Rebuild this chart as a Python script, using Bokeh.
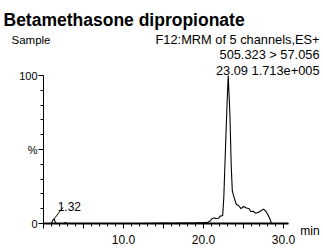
from bokeh.plotting import figure
from bokeh.models import Label, FixedTicker, Range1d, ColumnDataSource
from bokeh.embed import file_html
from bokeh.resources import INLINE

# ---- data ----
time_min = [0.0, 1.0, 1.15, 1.32, 1.45, 1.6, 2.6, 2.75, 2.9, 5.0, 8.0, 10.0, 12.0, 14.0,
            15.0, 16.0, 17.0, 18.0, 19.0, 19.5, 20.0, 20.5, 20.8, 21.0, 21.3, 21.6, 21.9,
            22.1, 22.4, 22.54, 22.75, 22.96, 23.09, 23.3, 23.46, 23.6, 23.8, 24.1, 24.4,
            24.7, 25.0, 25.3, 25.7, 25.9, 26.2, 26.5, 26.8, 27.1, 27.5, 27.8, 28.1, 28.3,
            28.5, 29.0, 30.6]
intensity_pct = [0.0, 0.0, 2.0, 3.4, 1.2, 0.0, 0.0, 0.8, 0.0, 0.0, 0.0, 0.0, 0.0, 0.2,
                 0.3, 0.2, 0.3, 0.3, 0.4, 0.5, 0.6, 0.8, 1.5, 3.0, 3.8, 3.4, 3.6,
                 5.0, 5.4, 17.8, 51.0, 83.0, 100.0, 74.0, 40.0, 22.0, 18.0, 13.0, 12.0,
                 10.0, 11.5, 10.6, 10.0, 8.1, 8.3, 7.0, 7.4, 8.3, 9.7, 8.3, 5.4, 3.2,
                 0.0, 0.0, 0.0]
x_major = [0, 5, 10, 15, 20, 25, 30]
x_labels = {0: "", 5: "", 10: "10.0", 15: "", 20: "20.0", 25: "", 30: "30.0"}
y_major = [0, 50, 100]
y_labels = {0: "0", 50: "%", 100: "100"}

title_text = "Betamethasone dipropionate"
sample_text = "Sample"
info_lines = ["F12:MRM of 5 channels,ES+", "505.323 > 57.056", "23.09 1.713e+005"]
x_unit_text = "min"
small_peak_rt = 1.32
small_peak_val = 3.4

FONT = "Liberation Sans"

# frame covers the whole canvas; axes are pinned at 0 with fixed_location
p = figure(width=323, height=248, output_backend="svg", toolbar_location=None,
           x_range=Range1d(-5.375, 35.0), y_range=Range1d(-16.89, 150.68),
           min_border=0, min_border_left=0, min_border_right=0,
           min_border_top=0, min_border_bottom=0)
p.outline_line_color = None
p.xgrid.visible = False
p.ygrid.visible = False
p.background_fill_color = "white"
p.border_fill_color = "white"

p.line(time_min, intensity_pct, line_color="black", line_width=1.1)

# x axis
xa = p.xaxis[0]
xa.fixed_location = 0
xa.bounds = (0, 30.6)
xa.ticker = FixedTicker(ticks=x_major, minor_ticks=list(range(0, 31)))
xa.major_label_overrides = x_labels
xa.axis_line_width = 2
xa.axis_line_color = "black"
xa.major_tick_out = 5
xa.major_tick_in = 0
xa.minor_tick_out = 3
xa.minor_tick_in = 0
xa.major_tick_line_color = "black"
xa.minor_tick_line_color = "black"
xa.major_label_text_font = FONT
xa.major_label_text_font_size = "12px"
xa.major_label_text_color = "black"
xa.major_label_standoff = 6

# y axis
ya = p.yaxis[0]
ya.fixed_location = 0
ya.bounds = (0, 100)
ya.ticker = FixedTicker(ticks=y_major, minor_ticks=list(range(0, 101, 10)))
ya.major_label_overrides = y_labels
ya.axis_line_color = "black"
ya.axis_line_width = 1
ya.major_tick_out = 5
ya.major_tick_in = 0
ya.minor_tick_out = 3
ya.minor_tick_in = 0
ya.major_tick_line_color = "black"
ya.minor_tick_line_color = "black"
ya.major_label_text_font = FONT
ya.major_label_text_font_size = "11px"
ya.major_label_text_color = "black"
ya.major_label_standoff = 1

# texts (data units: 8 px per minute, 1.48 px per %)
p.add_layout(Label(x=-5.0, y=137.2, text=title_text, text_font=FONT, text_font_style="bold",
                   text_font_size="17.5px", text_baseline="alphabetic", text_align="left",
                   text_color="black"))
p.add_layout(Label(x=-4.0, y=124.3, text=sample_text, text_font=FONT,
                   text_font_size="11.5px", text_baseline="alphabetic", text_align="left",
                   text_color="black"))
for i, t in enumerate(info_lines):
    p.add_layout(Label(x=34.5, y=124.3 - 10.3 * i, text=t, text_font=FONT,
                       text_font_size="12.8px", text_baseline="alphabetic", text_align="right",
                       text_color="black"))

p.add_layout(Label(x=32.1, y=-5.4, text=x_unit_text, text_font=FONT, text_font_size="12px",
                   text_baseline="middle", text_align="left", text_color="black"))

# small peak annotation with leader
lead = ColumnDataSource(dict(x0=[small_peak_rt + 0.05], y0=[small_peak_val],
                             x1=[small_peak_rt + 1.1], y1=[small_peak_val + 7.4]))
p.segment("x0", "y0", "x1", "y1", source=lead, line_color="black", line_width=1)
p.add_layout(Label(x=small_peak_rt + 0.45, y=small_peak_val + 8.4, text=f"{small_peak_rt:.2f}",
                   text_font=FONT, text_font_size="12px", text_baseline="alphabetic",
                   text_align="left", text_color="black"))

open("out.html", "w").write(file_html(p, INLINE))
